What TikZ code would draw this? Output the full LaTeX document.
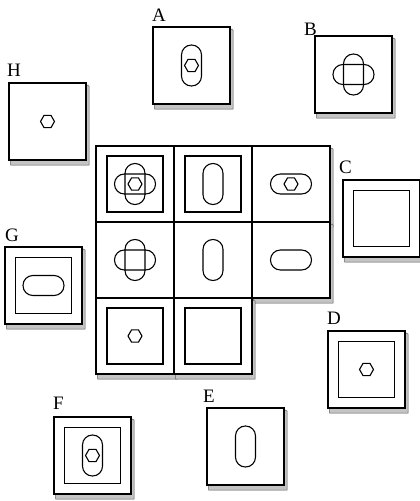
\documentclass[tikz,border=0pt]{standalone}
\usepackage{fontspec}
\setmainfont{Liberation Serif}
\usepackage{tikz}
\usetikzlibrary{positioning,backgrounds}
\definecolor{GrisSombra}{HTML}{C4C4C4}
\newcommand{\hexa}[1]{%
  \draw[trazo] (#1.center) ++(7,0) -- ++(120:7) -- ++(180:7) -- ++(240:7)
    -- ++(300:7) -- ++(0:7) -- cycle;}
\newcommand{\ovalv}[1]{%
  \draw[trazo, rounded corners=9.9pt] (#1.center) ++(-10,-20.5) rectangle ++(20,41);}
\newcommand{\ovalh}[1]{%
  \draw[trazo, rounded corners=9.9pt] (#1.center) ++(-20.5,-10) rectangle ++(41,20);}
\newcommand{\cruz}[1]{\ovalv{#1}\ovalh{#1}}
\newcommand{\marco}[1]{%
  \draw[trazo] (#1.center) ++(-28,-28) rectangle ++(56,56);}
\newcommand{\sombra}[1]{%
  \filldraw[sombra] ([xshift=1.5pt]#1.south west) -- (#1.south east)
    -- ([yshift=-1.5pt]#1.north east) -- ([shift={(3pt,-3pt)}]#1.north east)
    -- ([shift={(3pt,-5pt)}]#1.south east) -- ([shift={(1.5pt,-5pt)}]#1.south west) -- cycle;}
\tikzset{
  celda/.style = {draw, fill=white, line width=1.1pt, outer sep=0pt, inner sep=0pt,
                  minimum width=78pt, minimum height=76pt},
  ficha/.style = {celda, minimum width=77pt, minimum height=77pt},
  sombra/.style = {fill=GrisSombra, draw=black!65, line width=0.5pt},
  trazo/.style = {line width=1.1pt},
  letra/.style = {font=\fontsize{19}{19}\selectfont, inner sep=0pt},
}
\begin{document}
\begin{tikzpicture}[x=1pt, y=-1pt, node distance=0pt]
  \useasboundingbox (0,0) rectangle (420,501);
  % matriz 3x3 con la casilla vacia abajo a la derecha
  \node[celda] (c11) at (135,184) {};
  \node[celda, right=of c11] (c12) {};
  \node[celda, right=of c12] (c13) {};
  \node[celda, below=of c11] (c21) {};
  \node[celda, right=of c21] (c22) {};
  \node[celda, right=of c22] (c23) {};
  \node[celda, below=of c21] (c31) {};
  \node[celda, right=of c31] (c32) {};
  \marco{c11} \cruz{c11} \hexa{c11}
  \marco{c12} \ovalv{c12}
  \ovalh{c13} \hexa{c13}
  \cruz{c21}
  \ovalv{c22}
  \ovalh{c23}
  \marco{c31} \hexa{c31}
  \marco{c32}
  % opciones
  \node[ficha] (tA) at (191.5,65.5) {};
  \node[ficha] (tB) at (353.5,74.5) {};
  \node[ficha] (tH) at (47.5,121.5) {};
  \node[ficha] (tG) at (43.5,285.5) {};
  \node[ficha] (tC) at (381.5,218.5) {};
  \node[ficha] (tD) at (366.5,369.5) {};
  \node[ficha] (tF) at (92.5,455.5) {};
  \node[ficha] (tE) at (245.5,446.5) {};
  \ovalv{tA} \hexa{tA}
  \cruz{tB}
  \hexa{tH}
  \marco{tG} \ovalh{tG}
  \marco{tC}
  \marco{tD} \hexa{tD}
  \marco{tF} \ovalv{tF} \hexa{tF}
  \ovalv{tE}
  % cantos de las fichas, por debajo
  \begin{scope}[on background layer]
    \foreach \n in {c11,c12,c13,c21,c22,c23,c31,c32,tA,tB,tC,tD,tE,tF,tG,tH}
      {\sombra{\n}}
  \end{scope}
  \node[letra, above right=5pt and -1pt of tA.north west] (lA) {A};
  \node[letra, above right=0pt and -11pt of tB.north west] (lB) {B};
  \node[letra, above right=6pt and -4pt of tC.north west] (lC) {C};
  \node[letra, above right=6pt and -1pt of tD.north west] (lD) {D};
  \node[letra, above right=5pt and -4pt of tE.north west] (lE) {E};
  \node[letra, above right=7pt and -1pt of tF.north west] (lF) {F};
  \node[letra, above right=5pt and 0pt of tG.north west] (lG) {G};
  \node[letra, above right=6pt and -2pt of tH.north west] (lH) {H};
\end{tikzpicture}
\end{document}
